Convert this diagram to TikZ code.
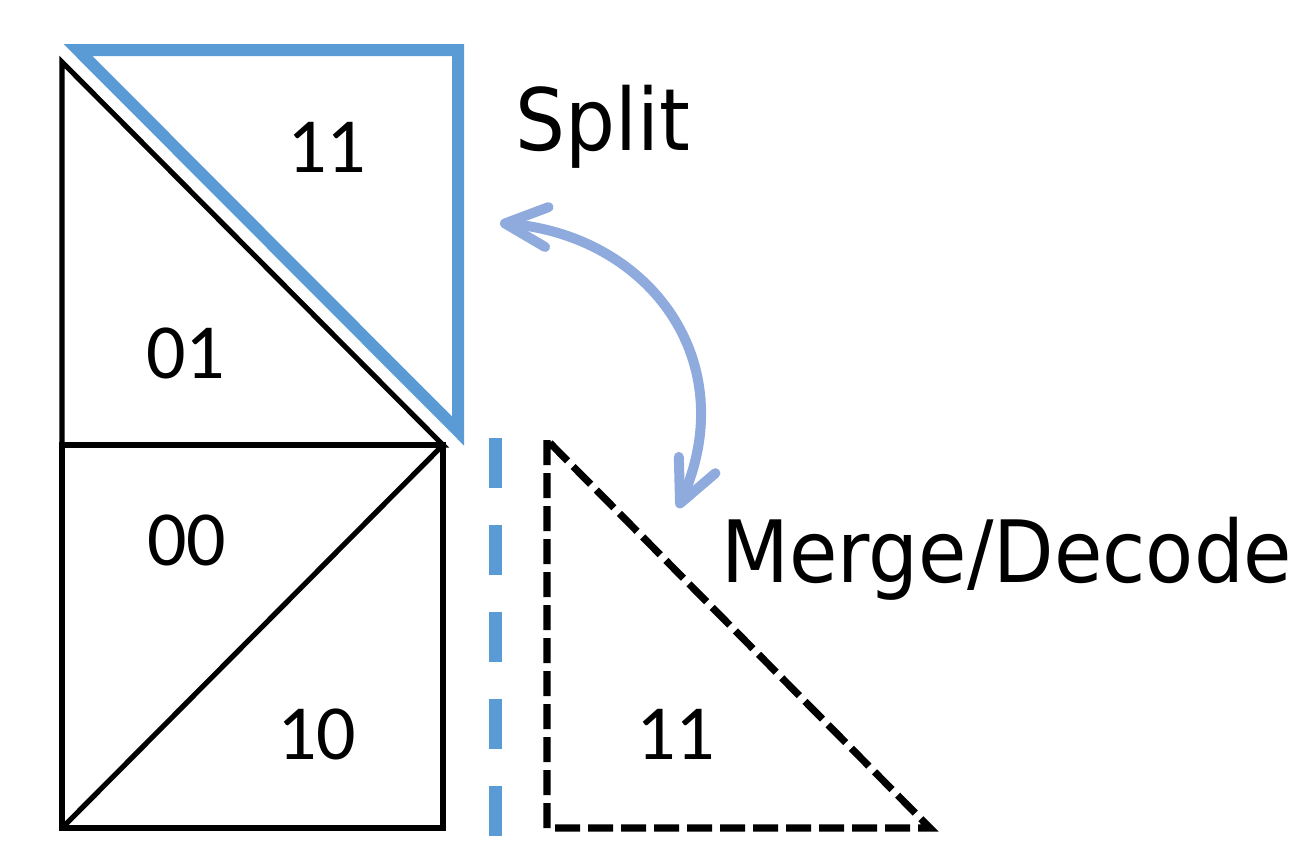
\documentclass[tikz,border=0pt]{standalone}
\usepackage{fontspec}
\usetikzlibrary{arrows.meta}
\setmainfont{Carlito}
\newfontfamily\headfont[FakeStretch=0.915]{DejaVu Sans}
\definecolor{splitblue}{HTML}{5B9BD5}
\definecolor{swapblue}{HTML}{8FAADC}

\begin{document}
\begin{tikzpicture}[x=0.5pt, y=-0.5pt,
    edge/.style={line width=2.6pt, black},
    cut/.style={line width=6pt, splitblue},
    gap/.style={line width=6.5pt, splitblue, dash pattern=on 25pt off 18.5pt},
    ghost/.style={line width=3.6pt, black, dash pattern=on 12.5pt off 4pt},
    code/.style={anchor=base west, inner sep=0pt, font=\fontsize{39}{39}\selectfont},
    word/.style={anchor=base west, inner sep=0pt, font=\headfont\fontsize{43}{43}\selectfont},
    swap/.style={line width=5pt, swapblue, line cap=round, >={Straight Barb[length=21pt, width=20pt, round]}, <->}]
    \useasboundingbox (0,0) rectangle (1307,853);

    % Corners
    \coordinate (tl) at (62,62);
    \coordinate (ml) at (62,445);
    \coordinate (mr) at (443,445);
    \coordinate (bl) at (62,828);
    \coordinate (br) at (443,828);
    \coordinate (ctl) at (78,50);
    \coordinate (ctr) at (458,50);
    \coordinate (cbr) at (458,431);
    \coordinate (gtop) at (495,438);
    \coordinate (gbot) at (495,836);
    \coordinate (dtop) at (547,440);
    \coordinate (dbl) at (547,828);
    \coordinate (dbr) at (930,828);

    % Draw triangles
    \draw[edge] (tl) -- (ml) -- (mr) -- cycle;
    \draw[edge] (ml) -- (mr) -- (br) -- (bl) -- cycle;
    \draw[edge] (bl) -- (mr);
    \draw[cut] (ctl) -- (ctr) -- (cbr) -- cycle;
    \draw[gap] (gtop) -- (gbot);
    \draw[ghost] (dtop) -- (dbl) -- (dbr) -- cycle;

    % Labels
    \node[code] (c11) at (287,172) {11};
    \node[code] (c01) at (146,378) {01};
    \node[code] (c00) at (147,565) {00};
    \node[code] (c10) at (277,759) {10};
    \node[code] (d11) at (636,759) {11};
    \node[word] (split) at (515,150) {Split};
    \node[word] (merge) at (721,582) {Merge/Decode};

    % Draw arrow
    \coordinate (splittip) at (500,223);
    \coordinate (mergetip) at (678,508);
    \draw[swap] (splittip) .. controls (650,236) and (743,362) .. (mergetip);
\end{tikzpicture}
\end{document}
